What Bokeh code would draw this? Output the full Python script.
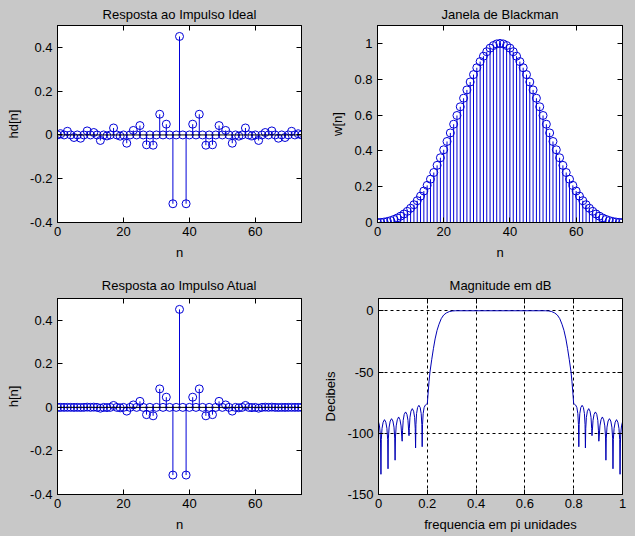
from bokeh.plotting import figure
from bokeh.layouts import column, row
from bokeh.models import FixedTicker, LinearAxis, Span, Range1d, NumeralTickFormatter, ColumnDataSource
from bokeh.embed import file_html
from bokeh.resources import INLINE

# ---------------- data ----------------
n = [0, 1, 2, 3, 4, 5, 6, 7, 8, 9, 10, 11, 12, 13, 14, 15, 16, 17, 18, 19,
     20, 21, 22, 23, 24, 25, 26, 27, 28, 29, 30, 31, 32, 33, 34, 35, 36, 37, 38, 39,
     40, 41, 42, 43, 44, 45, 46, 47, 48, 49, 50, 51, 52, 53, 54, 55, 56, 57, 58, 59,
     60, 61, 62, 63, 64, 65, 66, 67, 68, 69, 70, 71, 72, 73, 74]

hd = [0.0, 0.0055, 0.0, 0.0167, 0.0, -0.0117, 0.0, -0.0150, 0.0, 0.0184,
      0.0, 0.0111, 0.0, -0.0252, 0.0, -0.0045, 0.0, 0.0318, 0.0, -0.0055,
      0.0, -0.0378, 0.0, 0.0206, 0.0, 0.0429, 0.0, -0.0450, 0.0, -0.0468,
      0.0, 0.0945, 0.0, 0.0492, 0.0, -0.3144, 0.0, 0.4500, 0.0, -0.3144,
      0.0, 0.0492, 0.0, 0.0945, 0.0, -0.0468, 0.0, -0.0450, 0.0, 0.0429,
      0.0, 0.0206, 0.0, -0.0378, 0.0, -0.0055, 0.0, 0.0318, 0.0, -0.0045,
      0.0, -0.0252, 0.0, 0.0111, 0.0, 0.0184, 0.0, -0.0150, 0.0, -0.0117,
      0.0, 0.0167, 0.0, 0.0055, 0.0]

w = [0.0000, 0.0006, 0.0026, 0.0060, 0.0108, 0.0172, 0.0254, 0.0356, 0.0478, 0.0623,
     0.0795, 0.0992, 0.1218, 0.1473, 0.1758, 0.2073, 0.2418, 0.2791, 0.3191, 0.3615,
     0.4061, 0.4524, 0.5001, 0.5487, 0.5975, 0.6461, 0.6939, 0.7402, 0.7845, 0.8259,
     0.8641, 0.8984, 0.9285, 0.9537, 0.9737, 0.9882, 0.9970, 1.0000, 0.9970, 0.9882,
     0.9737, 0.9537, 0.9285, 0.8984, 0.8641, 0.8259, 0.7845, 0.7402, 0.6939, 0.6461,
     0.5975, 0.5487, 0.5001, 0.4524, 0.4061, 0.3615, 0.3191, 0.2791, 0.2418, 0.2073,
     0.1758, 0.1473, 0.1218, 0.0992, 0.0795, 0.0623, 0.0478, 0.0356, 0.0254, 0.0172,
     0.0108, 0.0060, 0.0026, 0.0006, 0.0000]

h = [0.0, 0.0000, 0.0, 0.0001, 0.0, -0.0002, 0.0, -0.0005, 0.0, 0.0011,
     0.0, 0.0011, 0.0, -0.0037, 0.0, -0.0009, 0.0, 0.0089, 0.0, -0.0020,
     0.0, -0.0171, 0.0, 0.0113, 0.0, 0.0277, 0.0, -0.0333, 0.0, -0.0387,
     0.0, 0.0849, 0.0, 0.0469, 0.0, -0.3107, 0.0, 0.4500, 0.0, -0.3107,
     0.0, 0.0469, 0.0, 0.0849, 0.0, -0.0387, 0.0, -0.0333, 0.0, 0.0277,
     0.0, 0.0113, 0.0, -0.0171, 0.0, -0.0020, 0.0, 0.0089, 0.0, -0.0009,
     0.0, -0.0037, 0.0, 0.0011, 0.0, 0.0011, 0.0, -0.0005, 0.0, -0.0002,
     0.0, 0.0001, 0.0, 0.0000, 0.0]

freq = [0.000, 0.004, 0.007, 0.0085, 0.010,
        0.0115, 0.0145, 0.019, 0.0245, 0.030, 0.0345, 0.0375, 0.039,
        0.0405, 0.0435, 0.048, 0.0535, 0.059, 0.0635, 0.0665, 0.068,
        0.0695, 0.0725, 0.077, 0.0825, 0.088, 0.0925, 0.0955, 0.097,
        0.0985, 0.1012, 0.1054, 0.111, 0.1166, 0.1208, 0.1236, 0.125,
        0.1264, 0.129, 0.1331, 0.1385, 0.1439, 0.148, 0.1506, 0.152,
        0.1534, 0.156, 0.1601, 0.1655, 0.1709, 0.175, 0.1776, 0.179,
        0.1805, 0.183, 0.187, 0.192, 0.196, 0.200,
        0.203, 0.207, 0.211, 0.218, 0.225, 0.232, 0.240, 0.248, 0.257, 0.267, 0.278, 0.290, 0.302, 0.315,
        0.685, 0.698, 0.710, 0.722, 0.733, 0.743, 0.752, 0.760, 0.768, 0.775, 0.782, 0.789, 0.793, 0.797,
        0.800, 0.804, 0.808, 0.813, 0.817, 0.8195, 0.821,
        0.8224, 0.825, 0.8291, 0.8345, 0.8399, 0.844, 0.8466, 0.848,
        0.8494, 0.852, 0.8561, 0.8615, 0.8669, 0.871, 0.8736, 0.875,
        0.8764, 0.8792, 0.8834, 0.889, 0.8946, 0.8988, 0.9015, 0.903,
        0.9045, 0.9075, 0.912, 0.9175, 0.923, 0.9275, 0.9305, 0.932,
        0.9335, 0.9365, 0.941, 0.9465, 0.952, 0.9565, 0.9595, 0.961,
        0.9625, 0.9655, 0.970, 0.9755, 0.981, 0.9855, 0.9885, 0.990,
        0.9915, 0.993, 0.996, 1.000]

db = [-90.8, -94, -100, -108, -133.5,
      -105, -96, -91, -88.9, -91, -96, -105, -129,
      -104, -95, -90, -88.1, -90, -95, -104, -122,
      -103, -94, -89, -86.7, -89, -94, -103, -106.5,
      -98, -89.5, -84.6, -82.6, -84.6, -89.5, -98, -102,
      -96, -87, -82, -79.9, -82, -87, -96, -112,
      -93, -84, -79, -77.2, -79, -84, -93, -111,
      -93, -84, -79, -77, -76.4, -76,
      -68, -58, -50, -40, -31, -23, -16, -11, -6.5, -3.5, -1.8, -0.7, -0.2, 0,
      0, -0.2, -0.7, -1.8, -3.5, -6.5, -11, -16, -23, -31, -40, -50, -58, -68,
      -76, -76.4, -77, -79, -84, -93, -111,
      -93, -84, -79, -77.2, -79, -84, -93, -112,
      -96, -87, -82, -79.9, -82, -87, -96, -102,
      -98, -89.5, -84.6, -82.6, -84.6, -89.5, -98, -106.5,
      -103, -94, -89, -86.7, -89, -94, -103, -122,
      -104, -95, -90, -88.1, -90, -95, -104, -129,
      -105, -96, -91, -88.9, -91, -96, -105, -133.5,
      -108, -100, -94, -90.8]

n_ticks = [0, 20, 40, 60]
imp_ticks = [-0.4, -0.2, 0, 0.2, 0.4]
w_ticks = [0, 0.2, 0.4, 0.6, 0.8, 1]
f_ticks = [0, 0.2, 0.4, 0.6, 0.8, 1]
db_ticks = [-150, -100, -50, 0]

# ---------------- style ----------------
FONT = "Liberation Sans"
BG = "#c8c8c8"
BLUE = "#0000d8"
CURVE = "#0000b4"
FS = "13px"


def style_axis(ax, ticks):
    ax.ticker = FixedTicker(ticks=ticks)
    ax.formatter = NumeralTickFormatter(format="0.[0]")
    ax.major_tick_in = 5
    ax.major_tick_out = 0
    ax.minor_tick_line_color = None
    ax.axis_line_color = "black"
    ax.major_tick_line_color = "black"
    ax.major_label_text_font = FONT
    ax.major_label_text_font_size = FS
    ax.major_label_text_color = "black"
    ax.axis_label_text_font = FONT
    ax.axis_label_text_font_size = FS
    ax.axis_label_text_font_style = "normal"
    ax.axis_label_text_color = "black"


def make_fig(width, height, left, right, top, bottom, xr, yr, xt, yt, title, xlabel, ylabel, tstand):
    p = figure(width=width, height=height, x_range=Range1d(*xr), y_range=Range1d(*yr),
               output_backend="svg", toolbar_location=None,
               min_border_left=left, min_border_right=right,
               min_border_top=top, min_border_bottom=bottom)
    p.border_fill_color = BG
    p.background_fill_color = "white"
    p.outline_line_color = "black"
    p.outline_line_width = 1
    p.title.text = title
    p.title.align = "center"
    p.title.text_font = FONT
    p.title.text_font_size = FS
    p.title.text_font_style = "normal"
    p.title.text_color = "black"
    p.title.standoff = tstand
    style_axis(p.xaxis[0], xt)
    style_axis(p.yaxis[0], yt)
    p.xaxis[0].axis_label = xlabel
    p.yaxis[0].axis_label = ylabel
    p.xaxis[0].major_label_standoff = 4
    p.xaxis[0].axis_label_standoff = 6
    p.yaxis[0].major_label_standoff = 5
    p.yaxis[0].axis_label_standoff = 6
    # mirrored tick marks on top and right (labels not drawn)
    top_ax = LinearAxis()
    style_axis(top_ax, xt)
    top_ax.major_label_text_font_size = "1px"
    top_ax.major_label_text_color = None
    top_ax.major_label_standoff = 0
    p.add_layout(top_ax, "above")
    right_ax = LinearAxis()
    style_axis(right_ax, yt)
    right_ax.major_label_text_font_size = "1px"
    right_ax.major_label_text_color = None
    right_ax.major_label_standoff = 0
    p.add_layout(right_ax, "right")
    p.xgrid.visible = False
    p.ygrid.visible = False
    return p


def stem(p, xs, ys):
    src = ColumnDataSource(dict(x=xs, y=ys, base=[0.0] * len(xs)))
    p.segment(x0="x", y0="base", x1="x", y1="y", source=src, line_color=BLUE, line_width=1)
    p.scatter(x="x", y="y", source=src, marker="circle", size=8,
              fill_color=None, line_color=BLUE, line_width=1)
    p.add_layout(Span(location=0, dimension="width", line_color="black", line_width=1))


p1 = make_fig(320, 270, 57, 19, 25, 48, (0, 74), (-0.4, 0.5), n_ticks, imp_ticks,
              "Resposta ao Impulso Ideal", "n", "hd[n]", 8)
stem(p1, n, hd)

p2 = make_fig(315, 270, 57, 13, 25, 48, (0, 74), (0, 1.1), n_ticks, w_ticks,
              "Janela de Blackman", "n", "w[n]", 8)
stem(p2, n, w)

p3 = make_fig(320, 266, 57, 19, 28, 42, (0, 74), (-0.4, 0.5), n_ticks, imp_ticks,
              "Resposta ao Impulso Atual", "n", "h[n]", 11)
stem(p3, n, h)

p4 = make_fig(315, 266, 57, 13, 28, 42, (0, 1), (-150, 10), f_ticks, db_ticks,
              "Magnitude em dB", "frequencia em pi unidades", "Decibeis", 11)
p4.xgrid.visible = True
p4.ygrid.visible = True
for g in (p4.xgrid[0], p4.ygrid[0]):
    g.grid_line_color = "black"
    g.grid_line_dash = "3 3"
    g.grid_line_width = 1
    g.grid_line_alpha = 1.0
p4.line(freq, db, line_color=CURVE, line_width=1)

bgstyle = {"background-color": BG}
layout = column(row(p1, p2, styles=bgstyle, spacing=0),
                row(p3, p4, styles=bgstyle, spacing=0),
                styles=bgstyle, spacing=0)

open("out.html", "w").write(file_html(layout, INLINE))
